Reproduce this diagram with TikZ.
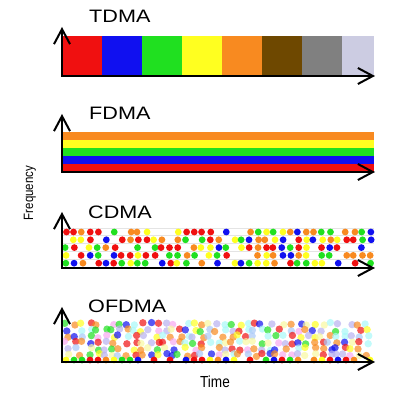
\documentclass[tikz,border=0pt]{standalone}
\usepackage{fontspec}
\setmainfont{Liberation Sans}
\usetikzlibrary{arrows.meta}
\definecolor{cr}{HTML}{F01010}
\definecolor{cb}{HTML}{1010F0}
\definecolor{cg}{HTML}{20E020}
\definecolor{cy}{HTML}{FFFF20}
\definecolor{co}{HTML}{F88A20}
\definecolor{cbrown}{HTML}{6E4800}
\definecolor{cgray}{HTML}{808080}
\definecolor{clav}{HTML}{CCCCE2}
\definecolor{pblue}{HTML}{A8C8F8}
\definecolor{plav}{HTML}{B8B0F0}
\definecolor{ppink}{HTML}{F8A8F0}
\definecolor{pcyan}{HTML}{A8F8F8}
\definecolor{pyel}{HTML}{F8F8A0}
\definecolor{gridgray}{HTML}{E4E4E4}
\tikzset{>={Straight Barb[length=15pt,width=16pt]},
  axis/.style={<->,draw=black,line width=2pt},
  title/.style={anchor=west,inner sep=0pt,xscale=1.2,font=\fontsize{18}{18}\selectfont},
  axislabel/.style={inner sep=0pt,xscale=.85},
  grid/.style={draw=gridgray,line width=.8pt}}
\begin{document}
\begin{tikzpicture}[x=1pt,y=-1pt]
\useasboundingbox(0,0)rectangle(400,393);
\foreach\c[count=\i from 0]in{cr,cb,cg,cy,co,cbrown,cgray,clav}\fill[\c]({62+\i*40},36)rectangle({min(102+\i*40,374)},75);
\foreach\c[count=\i from 0]in{co,cy,cg,cb,cr}\fill[\c](62,{132+\i*8})rectangle(374,{140+\i*8});
\foreach\r in{0,...,4}\draw[grid](62,{228+\r*7.8})--(374,{228+\r*7.8});
\pgfmathsetseed{11}
\foreach\r in{0,...,4}\foreach\c in{0,...,38}{\pgfmathrandominteger{\k}{0}{9}\pgfmathsetmacro\cc{{"cr","cr","co","co","cg","cy","cb","cg","none","none"}[\k]}
  \path[fill=\cc]({66+\c*8+rand*1.2},{232+\r*7.8})circle(3.4);}
\pgfmathsetseed{5}
\foreach\r in{0,...,5}\foreach\c in{0,...,40}{\pgfmathrandominteger{\k}{0}{12}\pgfmathsetmacro\cc{{"cr","cr","co","co","cg","cy","cb","pblue","plav","ppink","pcyan","pyel","none"}[\k]}
  \path[fill=\cc,fill opacity=.7]({67+\c*7.5+rand*2.5},{324+\r*6.2+rand*1.5})circle(3.7);}
\foreach\c in{0,...,38}{\pgfmathrandominteger{\k}{0}{7}\pgfmathsetmacro\cc{{"cr","co","cg","cy","cb","cr","none","none"}[\k]}
  \path[fill=\cc]({66+\c*8},360)circle(3.4);}
\foreach\n/\yb/\yt in{tdma/76/27,fdma/172/114,cdma/268/212,ofdma/362/307}{
  \coordinate(\n-o)at(62,\yb);\coordinate(\n-y)at(62,\yt);\coordinate(\n-x)at(375,\yb);
  \draw[axis](\n-y)--(\n-o)--(\n-x);}
\node[title](tdma)at(89,16.5){TDMA};
\node[title](fdma)at(89,113){FDMA};
\node[title](cdma)at(88,212.5){CDMA};
\node[title](ofdma)at(88,306){OFDMA};
\node[axislabel,font=\fontsize{16}{16}\selectfont](time)at(215,381.5){Time};
\node[rotate=90,axislabel,font=\fontsize{13.5}{13.5}\selectfont](freq)at(30,193){Frequency};
\end{tikzpicture}
\end{document}
